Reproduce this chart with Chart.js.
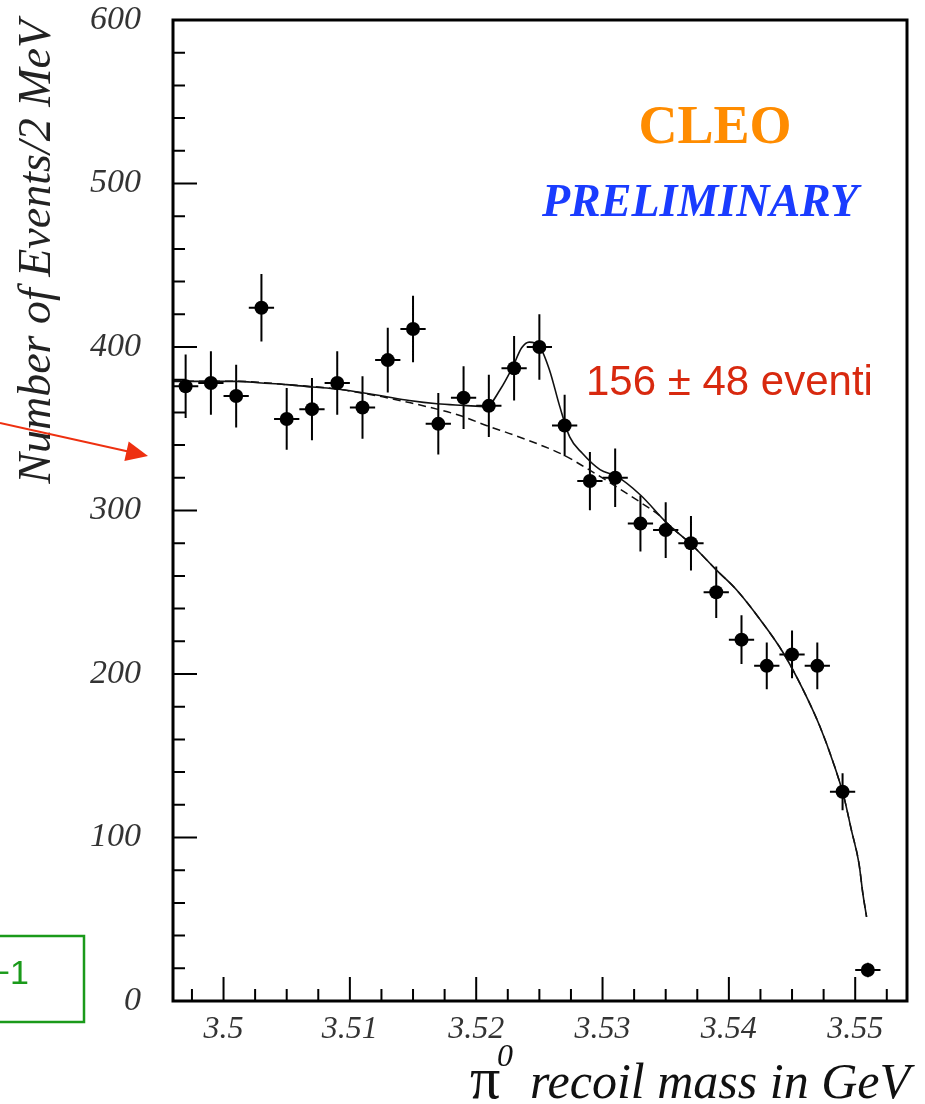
<!DOCTYPE html>
<html>
<head>
<meta charset="utf-8">
<script src="https://cdn.jsdelivr.net/npm/chart.js@4.4.1/dist/chart.umd.min.js"></script>
<style>
  body { margin: 0; background: #fff; }
  #wrap { position: relative; width: 925px; height: 1104px; }
</style>
</head>
<body>
<div id="wrap"><canvas id="c" width="925" height="1104"></canvas></div>
<script>
// bin centres in GeV (2 MeV bins)
const massBins = [3.497, 3.499, 3.501, 3.503, 3.505, 3.507, 3.509, 3.511, 3.513, 3.515,
                  3.517, 3.519, 3.521, 3.523, 3.525, 3.527, 3.529, 3.531, 3.533, 3.535,
                  3.537, 3.539, 3.541, 3.543, 3.545, 3.547, 3.549, 3.551];
const counts = [376, 378, 370, 424, 356, 362, 378, 363, 392, 411,
                353, 369, 364, 387, 400, 352, 318, 320, 292, 288,
                280, 250, 221, 205, 212, 205, 128, 19];
const errs = [19.4, 19.4, 19.2, 20.6, 18.9, 19.0, 19.4, 19.1, 19.8, 20.3,
              18.8, 19.2, 19.1, 19.7, 20.0, 18.8, 17.8, 17.9, 17.1, 17.0,
              16.7, 15.8, 14.9, 14.3, 14.6, 14.3, 11.3, 4.4];
const binHalfWidth = 0.001;

// full fit (signal + background)
const fitX = [3.496, 3.501, 3.503, 3.505, 3.507, 3.509, 3.511, 3.5126, 3.5147, 3.5169,
              3.519, 3.5208, 3.5219, 3.5229, 3.5236, 3.5242, 3.525, 3.5258, 3.5266, 3.5274,
              3.5284, 3.5298, 3.5311, 3.533, 3.5351, 3.5372, 3.539, 3.5406, 3.5425, 3.5443,
              3.5459, 3.5472, 3.5483, 3.5491, 3.5497, 3.5503, 3.5506, 3.5509];
const fitY = [379, 379, 378, 377, 375.5, 374.3, 372, 370, 367.3, 365.3,
              364.3, 363.5, 374, 388, 399.5, 403, 400.5, 386, 364, 345,
              335, 325, 321, 309.5, 292.3, 278, 263.7, 251.5, 233, 213,
              190, 168, 145, 125, 104.5, 84, 66, 51.5];

// background only (dashed)
const bkgX = [3.496, 3.501, 3.505, 3.509, 3.5108, 3.5126, 3.5147, 3.5169, 3.5189, 3.5208,
              3.5229, 3.5251, 3.5269, 3.5287, 3.5308, 3.533, 3.5345, 3.5351, 3.5372, 3.539,
              3.5406, 3.5425, 3.5443, 3.5459, 3.5472, 3.5483, 3.5491, 3.5497, 3.5503, 3.5506,
              3.5509];
const bkgY = [379, 379, 377, 374.3, 372, 369.5, 366, 362, 357.6, 352,
              346.4, 340, 334, 326, 316, 305, 297, 292.3, 278, 263.7,
              251.5, 233, 213, 190, 168, 145, 125, 104.5, 84, 66,
              51.5];

const xTickVals = [3.50, 3.51, 3.52, 3.53, 3.54, 3.55];
const xTickLabels = ['3.5', '3.51', '3.52', '3.53', '3.54', '3.55'];
const yTickVals = [0, 100, 200, 300, 400, 500, 600];

const serif = '"Liberation Serif", "Times New Roman", serif';
const sans = '"Liberation Sans", Arial, sans-serif';

// horizontal and vertical error bars
const errorBars = {
  id: 'errorBars',
  beforeDatasetsDraw(chart) {
    const { ctx, scales: { x, y } } = chart;
    ctx.save();
    ctx.strokeStyle = '#000';
    ctx.lineWidth = 2;
    ctx.beginPath();
    massBins.forEach((m, i) => {
      const px = x.getPixelForValue(m);
      const py = y.getPixelForValue(counts[i]);
      ctx.moveTo(px, y.getPixelForValue(counts[i] - errs[i]));
      ctx.lineTo(px, y.getPixelForValue(counts[i] + errs[i]));
      ctx.moveTo(x.getPixelForValue(m - binHalfWidth), py);
      ctx.lineTo(x.getPixelForValue(m + binHalfWidth), py);
    });
    ctx.stroke();
    ctx.restore();
  }
};

// ROOT style frame with ticks on the inside
const frame = {
  id: 'frame',
  afterDraw(chart) {
    const { ctx, chartArea: a, scales: { x, y } } = chart;
    ctx.save();
    ctx.strokeStyle = '#000';
    ctx.lineWidth = 2;
    ctx.beginPath();
    for (let v = 0; v <= 600; v += 20) {
      const py = y.getPixelForValue(v);
      const len = v % 100 === 0 ? 24 : 12;
      ctx.moveTo(a.left, py);
      ctx.lineTo(a.left + len, py);
    }
    for (let k = 0; k <= 22; k++) {
      const v = 3.4975 + k * 0.0025;
      const px = x.getPixelForValue(v);
      const major = Math.abs(v * 100 - Math.round(v * 100)) < 1e-6;
      ctx.moveTo(px, a.bottom);
      ctx.lineTo(px, a.bottom - (major ? 24 : 12));
    }
    ctx.stroke();
    ctx.lineWidth = 3;
    ctx.strokeRect(a.left, a.top, a.right - a.left, a.bottom - a.top);
    ctx.restore();
  }
};

// x title (upright pi with superscript 0) and slide annotations
const notes = {
  id: 'notes',
  afterDraw(chart) {
    const { ctx, chartArea: a } = chart;
    ctx.save();
    ctx.textBaseline = 'alphabetic';

    // x axis title, right aligned to the frame
    ctx.fillStyle = '#111';
    ctx.textAlign = 'right';
    ctx.font = 'italic 50px ' + serif;
    const rest = 'recoil mass in GeV';
    const restW = ctx.measureText(rest).width;
    const right = a.right + 3;
    ctx.fillText(rest, right, 1098);
    const startRest = right - restW;
    ctx.textAlign = 'left';
    ctx.font = 'italic 32px ' + serif;
    ctx.fillText('0', startRest - 33, 1066);
    ctx.font = '60px ' + serif;
    ctx.fillText('\u03c0', startRest - 60, 1098);

    ctx.textAlign = 'center';
    ctx.fillStyle = '#ff8c00';
    ctx.font = 'bold 54px ' + serif;
    ctx.fillText('CLEO', 715, 143);
    ctx.fillStyle = '#1a3cff';
    ctx.font = 'italic bold 46px ' + serif;
    ctx.fillText('PRELIMINARY', 700, 216);
    ctx.fillStyle = '#d8290f';
    ctx.textAlign = 'left';
    ctx.font = '42px ' + sans;
    ctx.fillText('156 \u00b1 48 eventi', 586, 395);

    // red arrow
    ctx.strokeStyle = '#ee3010';
    ctx.fillStyle = '#ee3010';
    ctx.lineWidth = 2;
    const x0 = 0, y0 = 423, x1 = 148, y1 = 456;
    const ang = Math.atan2(y1 - y0, x1 - x0);
    ctx.beginPath();
    ctx.moveTo(x0, y0);
    ctx.lineTo(x1 - 18 * Math.cos(ang), y1 - 18 * Math.sin(ang));
    ctx.stroke();
    ctx.beginPath();
    ctx.moveTo(x1, y1);
    ctx.lineTo(x1 - 22 * Math.cos(ang) + 10 * Math.sin(ang), y1 - 22 * Math.sin(ang) - 10 * Math.cos(ang));
    ctx.lineTo(x1 - 22 * Math.cos(ang) - 10 * Math.sin(ang), y1 - 22 * Math.sin(ang) + 10 * Math.cos(ang));
    ctx.closePath();
    ctx.fill();

    // green box, cut at the left edge
    ctx.strokeStyle = '#1a9a1a';
    ctx.lineWidth = 2.5;
    ctx.strokeRect(-10, 936, 94, 86);
    ctx.fillStyle = '#1a9a1a';
    ctx.textAlign = 'right';
    ctx.font = '34px ' + sans;
    ctx.fillText('\u22121', 29, 984);
    ctx.restore();
  }
};

new Chart(document.getElementById('c'), {
  type: 'scatter',
  data: {
    datasets: [
      {
        label: 'background',
        type: 'line',
        data: bkgX.map((v, i) => ({ x: v, y: bkgY[i] })),
        borderColor: '#111',
        borderWidth: 1.5,
        borderDash: [8, 5],
        pointRadius: 0,
        cubicInterpolationMode: 'monotone',
        fill: false,
        order: 3
      },
      {
        label: 'fit',
        type: 'line',
        data: fitX.map((v, i) => ({ x: v, y: fitY[i] })),
        borderColor: '#111',
        borderWidth: 1.6,
        pointRadius: 0,
        cubicInterpolationMode: 'monotone',
        fill: false,
        order: 2
      },
      {
        label: 'data',
        data: massBins.map((v, i) => ({ x: v, y: counts[i] })),
        pointRadius: 7,
        pointBackgroundColor: '#000',
        pointBorderWidth: 0,
        order: 1
      }
    ]
  },
  options: {
    responsive: false,
    animation: false,
    layout: { padding: { top: 20, right: 18, left: 0, bottom: 0 } },
    plugins: { legend: { display: false }, tooltip: { enabled: false } },
    scales: {
      x: {
        type: 'linear',
        min: 3.496,
        max: 3.5541,
        grid: { display: false, drawTicks: false },
        border: { display: false },
        afterBuildTicks: s => { s.ticks = xTickVals.map(v => ({ value: v })); },
        afterFit: s => { s.height = 103; s.paddingLeft = 0; s.paddingRight = 0; },
        ticks: {
          autoSkip: false,
          maxRotation: 0,
          padding: 9,
          color: '#333',
          font: { family: serif, style: 'italic', size: 32 },
          callback: (v, i) => xTickLabels[i]
        },
        title: { display: false, text: '\u03c0\u2070 recoil mass in GeV' }
      },
      y: {
        min: 0,
        max: 600,
        grid: { display: false, drawTicks: false },
        border: { display: false },
        afterBuildTicks: s => { s.ticks = yTickVals.map(v => ({ value: v })); },
        afterFit: s => { s.width = 173; s.paddingTop = 0; s.paddingBottom = 0; },
        ticks: {
          padding: 32,
          color: '#333',
          font: { family: serif, style: 'italic', size: 34 }
        },
        title: {
          display: true,
          text: 'Number of Events/2 MeV',
          align: 'end',
          color: '#222',
          font: { family: serif, style: 'italic', size: 46, lineHeight: 1 },
          padding: { top: 15, bottom: 0 }
        }
      }
    }
  },
  plugins: [errorBars, frame, notes]
});
</script>
</body>
</html>
